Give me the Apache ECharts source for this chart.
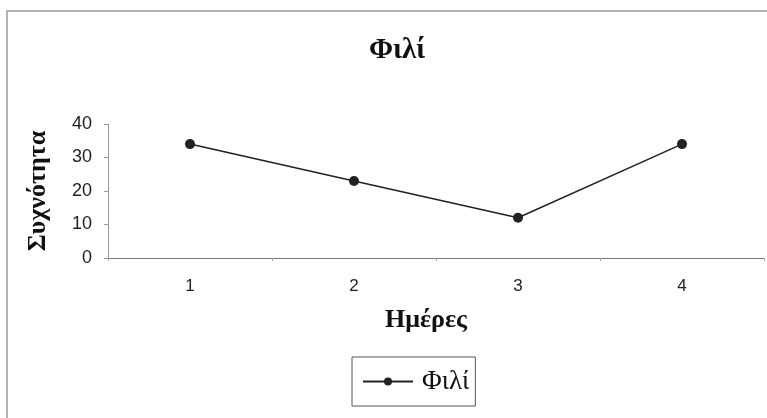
<!DOCTYPE html>
<html>
<head>
<meta charset="utf-8">
<script src="https://cdn.jsdelivr.net/npm/echarts@6/dist/echarts.min.js"></script>
<style>
  html, body { margin: 0; padding: 0; background: #fff; }
  #J-chart { width: 767px; height: 418px; }
</style>
</head>
<body>
<div id="J-chart"></div>
<script>
// 数据
const days = ['1', '2', '3', '4'];
const values = [34, 23, 12, 34];
const seriesName = 'Φιλί';

const serif = '"Liberation Serif", "DejaVu Serif", serif';
const sans = '"Liberation Sans", Arial, sans-serif';

const chart = echarts.init(document.getElementById('J-chart'));
chart.setOption({
    backgroundColor: '#fff',
    animation: false,
    title: {
        text: 'Φιλί',
        left: 364,
        top: 31,
        textStyle: { fontFamily: serif, fontSize: 29, fontWeight: 'bold', color: '#111' }
    },
    graphic: [{
        type: 'rect',
        shape: { x: 7, y: 11, width: 800, height: 500 },
        style: { fill: 'none', stroke: '#999', lineWidth: 1.5 },
        silent: true
    }],
    legend: {
        data: [seriesName],
        left: 352,
        top: 357,
        padding: [11, 6, 11, 10],
        itemWidth: 50,
        itemHeight: 10,
        itemGap: 8,
        textPadding: 0,
        borderColor: '#555',
        borderWidth: 1,
        textStyle: { fontFamily: serif, fontSize: 27, color: '#111', padding: [0, 0, 0, 4] }
    },
    grid: { left: 108, right: 3, top: 124, bottom: 160 },
    xAxis: {
        type: 'category',
        data: days,
        boundaryGap: true,
        name: 'Ημέρες',
        nameLocation: 'middle',
        nameGap: 49,
        nameTextStyle: { fontFamily: serif, fontSize: 26, fontWeight: 'bold', color: '#111', padding: [0, 20, 0, 0] },
        axisLine: { lineStyle: { color: '#777', width: 1 } },
        axisTick: { show: true, length: 3, lineStyle: { color: '#aaa' } },
        axisLabel: { fontFamily: sans, fontSize: 17, color: '#222', margin: 20 }
    },
    yAxis: {
        type: 'value',
        min: 0,
        max: 40,
        interval: 10,
        name: 'Συχνότητα',
        nameLocation: 'middle',
        nameGap: 57,
        nameTextStyle: { fontFamily: serif, fontSize: 26, fontWeight: 'bold', color: '#111' },
        axisLine: { show: true, lineStyle: { color: '#999', width: 1 } },
        axisTick: { show: true, length: 4, lineStyle: { color: '#999' } },
        splitLine: { show: false },
        axisLabel: { fontFamily: sans, fontSize: 18, color: '#222', margin: 16 }
    },
    series: [{
        name: seriesName,
        type: 'line',
        data: values,
        symbol: 'circle',
        symbolSize: 10,
        lineStyle: { color: '#222', width: 1.5 },
        itemStyle: { color: '#222' }
    }]
});
</script>
</body>
</html>
